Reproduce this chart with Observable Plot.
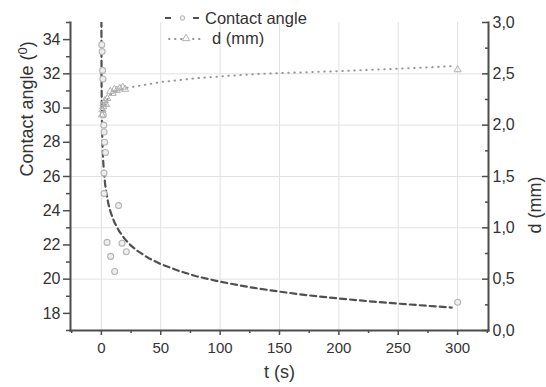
<!DOCTYPE html>
<html><head><meta charset="utf-8">
<script src="https://cdn.jsdelivr.net/npm/d3@7"></script>
<script src="https://cdn.jsdelivr.net/npm/@observablehq/plot@0.6"></script>
<style>
html,body{margin:0;padding:0;background:#fff;}
#wrap{position:relative;width:546px;height:387px;font-family:"Liberation Sans",Arial,sans-serif;}
#legend{position:absolute;left:0;top:0;}
</style></head><body><div id="wrap"></div>
<script>
// Contact angle measurements (t in s, angle in degrees)
const caT = [0.3, 0.6, 1.0, 1.3, 1.6, 2.0, 2.3, 2.7, 3.5, 2.2, 2.3, 4.8, 7.8, 11.2, 14.5, 17.4, 21, 300];
const caV = [33.7, 33.3, 32.2, 31.7, 29.6, 29.0, 28.6, 28.0, 27.4, 26.2, 25.0, 22.15, 21.33, 20.45, 24.3, 22.1, 21.6, 18.65];
// Contact angle fitted curve
const caFitT = [0.04, 0.05, 0.1, 0.2, 0.4, 0.7, 1, 1.5, 2, 3, 4, 6, 8, 11, 15, 20, 25, 30, 40, 50, 65, 80, 100, 125, 150, 175, 200, 225, 250, 275, 295];
const caFitV = [35.1, 34.57, 32.87, 31.24, 29.70, 28.51, 27.78, 26.97, 26.41, 25.64, 25.10, 24.37, 23.87, 23.32, 22.80, 22.32, 21.96, 21.67, 21.22, 20.88, 20.49, 20.17, 19.85, 19.53, 19.27, 19.05, 18.87, 18.71, 18.57, 18.44, 18.34];
// d (mm) measurements
const dT = [0.5, 1.0, 1.5, 2.0, 3.0, 4.0, 5.0, 7.5, 9.5, 11, 13, 15.5, 18, 20, 300];
const dV = [2.10, 2.15, 2.18, 2.21, 2.24, 2.20, 2.26, 2.33, 2.31, 2.35, 2.34, 2.36, 2.37, 2.35, 2.54];
// d (mm) fitted curve
const dFitT = [2, 3, 5, 7, 10, 15, 22, 35, 50, 78, 106, 134, 170, 209, 250, 297];
const dFitV = [2.14, 2.19, 2.25, 2.29, 2.32, 2.345, 2.365, 2.39, 2.42, 2.455, 2.48, 2.50, 2.515, 2.53, 2.55, 2.575];

// ticks
const xMajor = [0, 50, 100, 150, 200, 250, 300];
const xMinor = [-25, 25, 75, 125, 175, 225, 275, 325];
const leftMajor = [18, 20, 22, 24, 26, 28, 30, 32, 34];
const leftMinor = [17, 19, 21, 23, 25, 27, 29, 31, 33, 35];
const rightMajor = [0, 0.5, 1.0, 1.5, 2.0, 2.5, 3.0];
const rightMinor = [0.25, 0.75, 1.25, 1.75, 2.25, 2.75];
const dGrid = [0.5, 1.0, 1.5, 2.0, 2.5];

const yDomain = [17, 35];
const dDomain = [0, 3];
const dToY = d => yDomain[0] + (d - dDomain[0]) * (yDomain[1] - yDomain[0]) / (dDomain[1] - dDomain[0]);
const yToD = y => dDomain[0] + (y - yDomain[0]) * (dDomain[1] - dDomain[0]) / (yDomain[1] - yDomain[0]);

const caPts = caT.map((t, i) => ({t, v: caV[i]}));
const caFit = caFitT.map((t, i) => ({t, v: caFitV[i]}));
const dPts = dT.map((t, i) => ({t, v: dToY(dV[i])}));
const dFit = dFitT.map((t, i) => ({t, v: dToY(dFitV[i])}));

const axisCol = "#4d4d4d";
const textCol = "#333";
const font = '"Liberation Sans", Arial, sans-serif';

const plot = Plot.plot({
  width: 546, height: 387,
  marginLeft: 70, marginRight: 58, marginTop: 22, marginBottom: 57,
  style: {fontFamily: font, fontSize: "16px", color: textCol, background: "#fff"},
  x: {domain: [-26, 326], axis: null},
  y: {domain: yDomain, axis: null},
  marks: [
    Plot.ruleX(xMajor, {stroke: "#e2e2e2", strokeWidth: 1}),
    Plot.ruleY(dGrid.map(dToY), {stroke: "#e2e2e2", strokeWidth: 1}),
    Plot.line(caFit, {x: "t", y: "v", stroke: "#505050", strokeWidth: 2.2, strokeDasharray: "6,4", clip: true}),
    Plot.line(dFit, {x: "t", y: "v", stroke: "#999", strokeWidth: 2, strokeDasharray: "0.5,5.5", strokeLinecap: "round", clip: true}),
    Plot.dot(caPts, {x: "t", y: "v", r: 3, stroke: "#b5b5b5", fill: "#eeeeee", strokeWidth: 1.1}),
    Plot.dot(dPts, {x: "t", y: "v", symbol: "triangle", r: 2.6, stroke: "#b0b0b0", fill: "none", strokeWidth: 1}),
    Plot.frame({anchor: "left", stroke: axisCol, strokeWidth: 2}),
    Plot.frame({anchor: "right", stroke: axisCol, strokeWidth: 2}),
    Plot.frame({anchor: "bottom", stroke: axisCol, strokeWidth: 2}),
    Plot.axisY(leftMajor, {anchor: "left", label: null, tickSize: 7, tickPadding: 3, fontSize: 16, stroke: axisCol, strokeWidth: 1.5, fill: textCol}),
    Plot.axisY(leftMinor, {anchor: "left", label: null, tickSize: 4, stroke: axisCol, strokeWidth: 1.5, tickFormat: () => ""}),
    Plot.axisY(rightMajor.map(dToY), {anchor: "right", label: null, tickSize: -7, tickPadding: 11, fontSize: 16, stroke: axisCol, strokeWidth: 1.5, fill: textCol,
      tickFormat: v => yToD(v).toFixed(1).replace(".", ",")}),
    Plot.axisY(rightMinor.map(dToY), {anchor: "right", label: null, tickSize: -4, stroke: axisCol, strokeWidth: 1.5, tickFormat: () => ""}),
    Plot.axisX(xMajor, {anchor: "bottom", label: null, tickSize: 5, tickPadding: 7, fontSize: 15, stroke: axisCol, strokeWidth: 1.5, fill: textCol}),
    Plot.axisX(xMinor, {anchor: "bottom", label: null, tickSize: 3, stroke: axisCol, strokeWidth: 1.5, tickFormat: () => ""}),
    Plot.text(["Contact angle (0)"], {frameAnchor: "left", dx: -43, rotate: -90, fontSize: 18, fill: textCol, className: "ylab-left"}),
    Plot.text(["d (mm)"], {frameAnchor: "right", dx: 47, rotate: -90, fontSize: 18, fill: textCol}),
    Plot.text(["t (s)"], {frameAnchor: "bottom", dy: 47, fontSize: 18, fill: textCol})
  ]
});

const wrap = document.getElementById("wrap");
wrap.appendChild(plot);

// superscript 0 in left title
const lt = d3.select(plot).select(".ylab-left text");
if (!lt.empty()) {
  lt.text(null);
  lt.append("tspan").text("Contact angle (");
  lt.append("tspan").attr("font-size", "13").attr("dy", "-6").text("0");
  lt.append("tspan").attr("dy", "6").text(")");
}

// legend
const lg = d3.select(wrap).append("svg").attr("id", "legend").attr("width", 546).attr("height", 60)
  .style("font-family", font);
// row 1: contact angle
lg.append("line").attr("x1", 165).attr("x2", 171).attr("y1", 18).attr("y2", 18).attr("stroke", "#505050").attr("stroke-width", 2);
lg.append("circle").attr("cx", 182.5).attr("cy", 18).attr("r", 2.3).attr("stroke", "#b5b5b5").attr("fill", "#eee");
lg.append("line").attr("x1", 193).attr("x2", 199).attr("y1", 18).attr("y2", 18).attr("stroke", "#505050").attr("stroke-width", 2);
lg.append("text").attr("x", 205).attr("y", 24).attr("font-size", 16.5).attr("fill", textCol).text("Contact angle");
// row 2: d (mm)
lg.append("line").attr("x1", 169).attr("x2", 202).attr("y1", 39).attr("y2", 39).attr("stroke", "#999")
  .attr("stroke-width", 2).attr("stroke-dasharray", "0.5,5.5").attr("stroke-linecap", "round");
lg.append("path").attr("d", d3.symbol(d3.symbolTriangle, 24)()).attr("transform", "translate(186,38.5)")
  .attr("stroke", "#b0b0b0").attr("fill", "#fff");
lg.append("text").attr("x", 212).attr("y", 44).attr("font-size", 16.5).attr("fill", textCol).text("d (mm)");
</script></body></html>
